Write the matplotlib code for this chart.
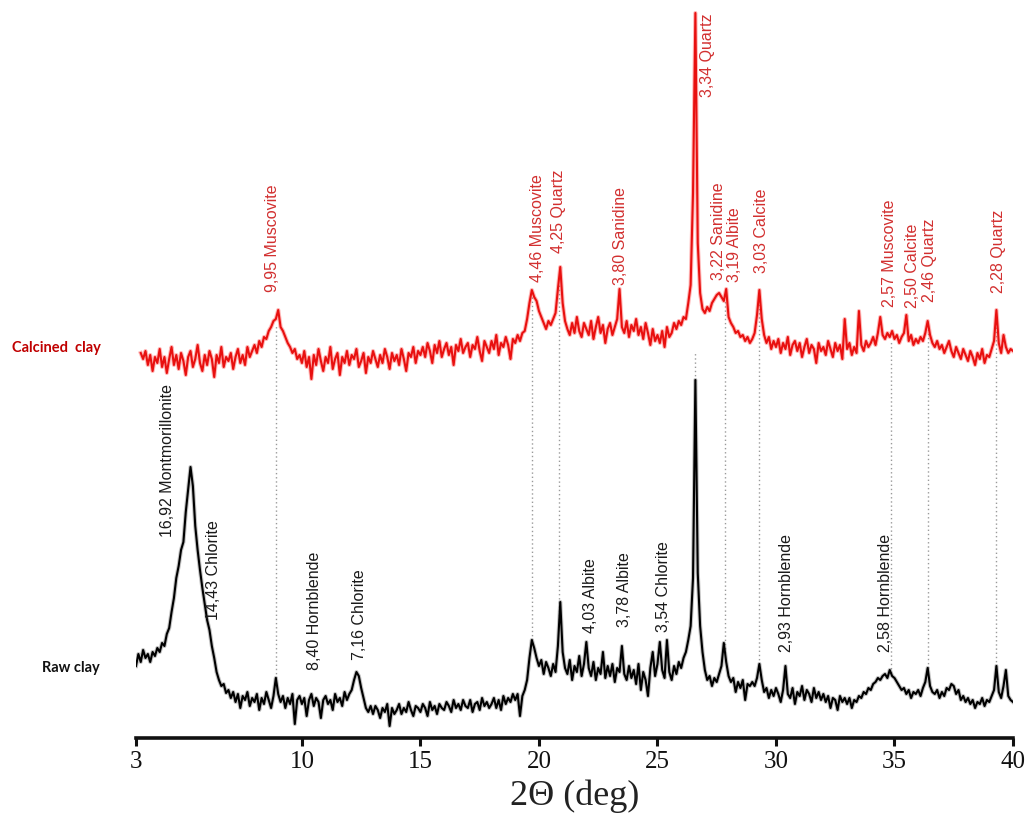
import numpy as np
import matplotlib
matplotlib.use("Agg")
import matplotlib.pyplot as plt

# ---------------- data (0.1 deg steps) ----------------
two_theta_raw = np.linspace(3.0, 40.0, 371)
raw_clay = [
    72, 84, 76, 88, 80, 84, 76, 86, 82, 90,            # 3.0
    86, 95, 92, 104, 110, 126, 140, 160, 172, 188,     # 4.0
    196, 226, 248, 271, 252, 212, 188, 168, 150, 134,  # 5.0
    118, 108, 92, 80, 66, 58, 52, 54, 45, 48,          # 6.0
    40, 46, 36, 44, 30, 42, 38, 46, 32, 40,            # 7.0
    36, 44, 28, 40, 34, 46, 38, 30, 42, 60,            # 8.0
    44, 36, 42, 30, 40, 34, 44, 14, 38, 42,            # 9.0
    34, 40, 22, 38, 44, 32, 40, 36, 20, 38,            # 10.0
    42, 34, 38, 28, 44, 36, 40, 32, 46, 38,            # 11.0
    44, 48, 58, 66, 62, 50, 40, 30, 26, 32,            # 12.0
    24, 32, 28, 20, 30, 26, 34, 12, 30, 24,            # 13.0
    28, 34, 24, 30, 26, 36, 28, 22, 32, 30,            # 14.0
    26, 34, 30, 22, 36, 28, 32, 24, 34, 30,            # 15.0
    28, 36, 32, 26, 38, 30, 34, 28, 38, 32,            # 16.0
    30, 38, 26, 34, 36, 28, 40, 32, 36, 30,            # 17.0
    34, 40, 30, 38, 28, 42, 34, 40, 36, 44,            # 18.0
    38, 44, 22, 42, 48, 58, 80, 98, 90, 80,            # 19.0
    72, 78, 64, 76, 70, 62, 74, 66, 92, 136,           # 20.0
    86, 70, 64, 78, 58, 72, 66, 82, 62, 74,            # 21.0
    96, 70, 62, 76, 58, 70, 64, 86, 60, 72,            # 22.0
    62, 74, 56, 70, 66, 92, 64, 58, 72, 60,            # 23.0
    68, 54, 74, 48, 66, 58, 42, 70, 86, 62,            # 24.0
    74, 96, 68, 60, 98, 66, 58, 72, 64, 76,            # 25.0
    70, 80, 86, 98, 112, 160, 358, 165, 112, 86,       # 26.0
    68, 58, 62, 52, 60, 56, 64, 72, 95, 76,            # 27.0
    62, 56, 60, 46, 56, 50, 58, 38, 54, 52,            # 28.0
    56, 52, 60, 74, 58, 46, 50, 40, 48, 42,            # 29.0
    50, 44, 36, 48, 72, 44, 40, 50, 34, 46,            # 30.0
    42, 52, 38, 48, 44, 36, 50, 40, 46, 38,            # 31.0
    44, 36, 42, 30, 40, 38, 28, 42, 36, 40,            # 32.0
    34, 40, 30, 38, 36, 42, 40, 46, 44, 50,            # 33.0
    48, 54, 56, 60, 58, 62, 64, 60, 68, 62,            # 34.0
    60, 56, 52, 48, 50, 44, 48, 40, 46, 44,            # 35.0
    48, 42, 50, 56, 70, 52, 46, 44, 48, 40,            # 36.0
    46, 42, 50, 48, 54, 52, 44, 48, 38, 42,            # 37.0
    36, 40, 34, 38, 30, 36, 34, 40, 32, 38,            # 38.0
    36, 42, 48, 72, 46, 40, 52, 68, 42, 38,            # 39.0
    36,                                                # 40.0
]

two_theta_calc = np.linspace(3.2, 40.0, 369)
calcined_clay = [
    40, 34, 42, 28, 38, 22, 36, 30,                    # 3.2
    44, 26, 36, 20, 34, 46, 28, 38, 24, 40,            # 4.0
    32, 18, 36, 42, 26, 34, 48, 30, 22, 38,            # 5.0
    28, 42, 34, 16, 38, 30, 46, 26, 36, 32,            # 6.0
    40, 24, 36, 44, 30, 38, 28, 46, 36, 42,            # 7.0
    48, 40, 52, 46, 56, 54, 62, 66, 72, 74,            # 8.0
    83, 66, 62, 56, 50, 46, 40, 44, 34, 38,            # 9.0
    30, 42, 26, 36, 14, 38, 28, 44, 32, 22,            # 10.0
    36, 30, 46, 24, 34, 40, 18, 36, 30, 42,            # 11.0
    28, 38, 34, 44, 26, 32, 40, 20, 36, 30,            # 12.0
    42, 34, 26, 38, 30, 44, 36, 24, 40, 32,            # 13.0
    38, 28, 44, 34, 22, 40, 36, 46, 30, 42,            # 14.0
    38, 46, 36, 50, 42, 30, 48, 40, 52, 36,            # 15.0
    44, 50, 38, 46, 28, 48, 42, 54, 40, 46,            # 16.0
    50, 36, 48, 44, 56, 42, 32, 52, 46, 40,            # 17.0
    52, 44, 58, 38, 50, 46, 56, 48, 34, 54,            # 18.0
    50, 58, 52, 60, 62, 74, 90, 103, 96, 92,           # 19.0
    82, 76, 70, 64, 72, 68, 74, 80, 104, 126,          # 20.0
    90, 72, 64, 58, 70, 60, 76, 62, 56, 70,            # 21.0
    64, 58, 72, 54, 66, 76, 60, 68, 50, 64,            # 22.0
    70, 58, 66, 74, 104, 66, 60, 72, 56, 68,           # 23.0
    62, 74, 58, 66, 54, 70, 60, 48, 64, 52,            # 24.0
    58, 50, 62, 46, 66, 56, 60, 70, 64, 72,            # 25.0
    68, 76, 74, 90, 108, 200, 380, 150, 100, 84,       # 26.0
    80, 86, 82, 90, 94, 98, 100, 96, 92, 104,          # 27.0
    76, 70, 66, 60, 62, 56, 58, 52, 56, 50,            # 28.0
    54, 60, 78, 103, 74, 58, 50, 56, 44, 52,           # 29.0
    46, 54, 40, 50, 44, 56, 38, 48, 52, 42,            # 30.0
    50, 36, 46, 54, 40, 48, 44, 30, 50, 42,            # 31.0
    46, 38, 52, 44, 36, 50, 42, 48, 34, 74,            # 32.0
    44, 50, 38, 46, 40, 82, 48, 42, 52, 46,            # 33.0
    50, 56, 48, 60, 76, 58, 54, 60, 56, 62,            # 34.0
    54, 58, 50, 56, 60, 78, 52, 58, 48, 54,            # 35.0
    50, 56, 52, 60, 72, 58, 50, 46, 52, 44,            # 36.0
    48, 40, 46, 52, 42, 36, 46, 40, 34, 44,            # 37.0
    38, 32, 42, 36, 28, 40, 34, 44, 30, 38,            # 38.0
    36, 44, 52, 83, 50, 40, 58, 46, 40, 44,            # 39.0
    42,                                                # 40.0
]

# peaks marked with dotted guide lines (2theta, deg)
guide_peaks = [8.9, 19.7, 20.85, 26.6, 27.85, 29.3, 34.85, 36.4, 39.3]

# labels: text, 2theta position
calc_labels = ["9,95 Muscovite", "4,46 Muscovite", "4,25 Quartz", "3,80 Sanidine",
               "3,34 Quartz", "3,22 Sanidine", "3,19 Albite", "3,03 Calcite",
               "2,57 Muscovite", "2,50 Calcite", "2,46 Quartz", "2,28 Quartz"]
calc_label_x = [8.74, 19.92, 20.81, 23.42, 27.13, 27.56, 28.23, 29.41,
                34.81, 35.78, 36.46, 39.37]
raw_labels = ["16,92 Montmorillonite", "14,43 Chlorite", "8,40 Hornblende",
              "7,16 Chlorite", "4,03 Albite", "3,78 Albite", "3,54 Chlorite",
              "2,93 Hornblende", "2,58 Hornblende"]
raw_label_x = [4.35, 6.25, 10.55, 12.45, 22.16, 23.63, 25.24, 30.43, 34.6]

x_ticks = [3, 10, 15, 20, 25, 30, 35, 40]

# ---------------- layout / style ----------------
W, H = 1025, 817
CALC_OFFSET = 345
calc_label_y = [446, 456, 485, 453, 641, 458, 456, 465, 431, 430, 436, 445]
raw_label_y = [201, 118, 68, 78, 105, 111, 106, 86, 86]

fig = plt.figure(figsize=(W / 100, H / 100), dpi=100)
ax_left, ax_right, ax_bottom_px = 136, 1013, 738
ax = fig.add_axes([ax_left / W, (H - ax_bottom_px) / H, (ax_right - ax_left) / W, ax_bottom_px / H])
ax.set_xlim(3, 40)
ax.set_ylim(0, 738)

raw = np.asarray(raw_clay, float)
calc = np.asarray(calcined_clay, float) + CALC_OFFSET

# dotted guide lines
for p in guide_peaks:
    yb = np.interp(p, two_theta_raw, raw)
    yt = np.interp(p, two_theta_calc, calc) - 6
    if p == 26.6:
        yt = CALC_OFFSET + 40
    ax.plot([p, p], [yb, yt], ls=(0, (1, 2)), color="#9a9a9a", lw=1.0, zorder=1)

# soft halo + core to mimic the fuzzy scan trace
ax.plot(two_theta_raw, raw, color="#555555", lw=3.0, alpha=0.35, zorder=2)
ax.plot(two_theta_raw, raw, color="black", lw=1.5, zorder=3)
ax.plot(two_theta_calc, calc, color="#ff3333", lw=3.0, alpha=0.35, zorder=2)
ax.plot(two_theta_calc, calc, color="#e8100f", lw=1.5, zorder=3)

lab_font = dict(family=["Liberation Sans", "DejaVu Sans"], fontsize=11.5)
for t, x, y in zip(calc_labels, calc_label_x, calc_label_y):
    ax.text(x, y, t, rotation=90, ha="center", va="bottom",
            color="#d22f2f", **lab_font)
for t, x, y in zip(raw_labels, raw_label_x, raw_label_y):
    ax.text(x, y, t, rotation=90, ha="center", va="bottom",
            color="#1a1a1a", **lab_font)

# series names
fig.text(12 / W, 1 - 348 / H, "Calcined  clay", color="#c00000", fontsize=10.5,
         fontweight="bold", family=["Lato", "DejaVu Sans"], ha="left", va="center")
fig.text(42 / W, 1 - 668 / H, "Raw clay", color="#111111", fontsize=10.5,
         fontweight="bold", family=["Lato", "DejaVu Sans"], ha="left", va="center")

# axes styling
for s in ["top", "right", "left"]:
    ax.spines[s].set_visible(False)
ax.spines["bottom"].set_linewidth(2.6)
ax.spines["bottom"].set_color("#111111")
ax.set_yticks([])
ax.set_xticks(x_ticks)
ax.set_xticklabels([str(v) for v in x_ticks], family=["Liberation Serif"], fontsize=18)
ax.tick_params(axis="x", direction="out", length=6, width=2.2, pad=3, colors="#111111")
ax.set_xlabel("2\u0398 (deg)", family=["Liberation Serif"], fontsize=26, labelpad=5,
              color="#222222")
ax.patch.set_alpha(0)

fig.savefig("out.png", dpi=100)
